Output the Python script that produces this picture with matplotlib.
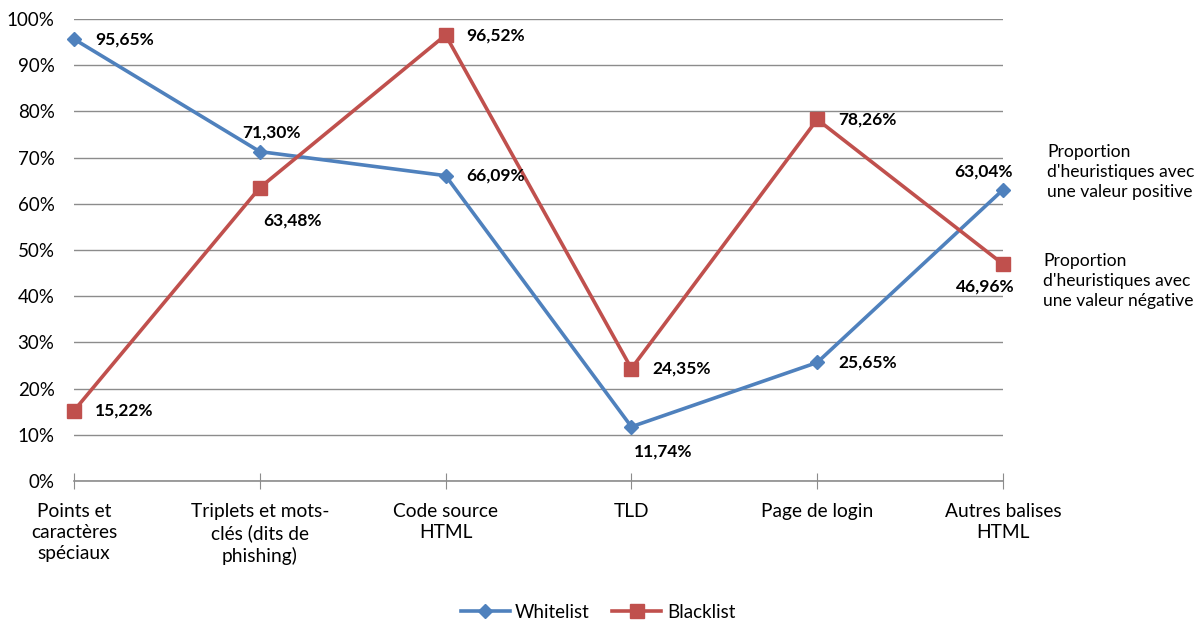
import matplotlib
matplotlib.use("Agg")
import matplotlib.pyplot as plt
from matplotlib.ticker import FuncFormatter

plt.rcParams['font.family'] = ['Lato', 'DejaVu Sans']

categories = ["Points et\ncaractères\nspéciaux", "Triplets et mots-\nclés (dits de\nphishing)",
              "Code source\nHTML", "TLD", "Page de login", "Autres balises\nHTML"]
whitelist = [95.65, 71.30, 66.09, 11.74, 25.65, 63.04]
blacklist = [15.22, 63.48, 96.52, 24.35, 78.26, 46.96]
# label offsets in pixels (dx, dy upward) of label centre relative to point; "R" = right of point
white_off = ["R", (12, 19), "R", (32, -25), "R", (-19, 18)]
black_off = ["R", (33, -33), "R", "R", "R", (-18, -22)]
yticks = [0, 10, 20, 30, 40, 50, 60, 70, 80, 90, 100]

blue = "#4F81BD"
red = "#C0504D"

fig = plt.figure(figsize=(11.96, 6.24), dpi=100)
ax = fig.add_axes([74/1196, 1-481/624, (1003-74)/1196, (481-19)/624])

x = list(range(len(categories)))
ax.plot(x, whitelist, color=blue, lw=2.6, marker="D", ms=7.5, label="Whitelist", zorder=3)
ax.plot(x, blacklist, color=red, lw=2.6, marker="s", ms=10, label="Blacklist", zorder=3)

def fmt(v):
    return f"{v:.2f}%".replace(".", ",")

def label(xi, v, off):
    if off == "R":
        ax.annotate(fmt(v), (xi, v), xytext=(21, 0), textcoords="offset pixels",
                    ha="left", va="center", fontsize=12.5, fontweight="bold")
    else:
        ax.annotate(fmt(v), (xi, v), xytext=off, textcoords="offset pixels",
                    ha="center", va="center", fontsize=12.5, fontweight="bold")

for xi, v, o in zip(x, whitelist, white_off):
    label(xi, v, o)
for xi, v, o in zip(x, blacklist, black_off):
    label(xi, v, o)

ax.set_xlim(0, len(categories) - 1)
ax.set_ylim(0, 100)
ax.set_yticks(yticks)
ax.yaxis.set_major_formatter(FuncFormatter(lambda v, p: f"{int(v)}%"))
ax.set_xticks(x)
ax.set_xticklabels(categories, fontsize=13.8, va="top", linespacing=1.28)
ax.grid(axis="y", color="#8C8C8C", lw=1)
ax.set_axisbelow(True)
for s in ["top", "right", "left"]:
    ax.spines[s].set_visible(False)
ax.spines["bottom"].set_color("#8C8C8C")
ax.spines["bottom"].set_linewidth(1.2)
ax.tick_params(axis="y", length=0, labelsize=13.5, pad=14)
ax.tick_params(axis="x", direction="inout", length=12, color="#8C8C8C", pad=10)
for line in ax.lines:
    line.set_clip_on(False)

fig.text(1047/1196, 1-172/624, "Proportion\nd'heuristiques avec\nune valeur positive",
         ha="left", va="center", fontsize=12.6, linespacing=1.33)
fig.text(1043/1196, 1-281/624, "Proportion\nd'heuristiques avec\nune valeur négative",
         ha="left", va="center", fontsize=12.6, linespacing=1.33)

fig.legend(loc="center", bbox_to_anchor=(598/1196, 1-612/624), ncol=2, frameon=False,
           fontsize=13.5, handlelength=2.6, columnspacing=1.2, handletextpad=0.3)

fig.savefig("out.png", dpi=100)
